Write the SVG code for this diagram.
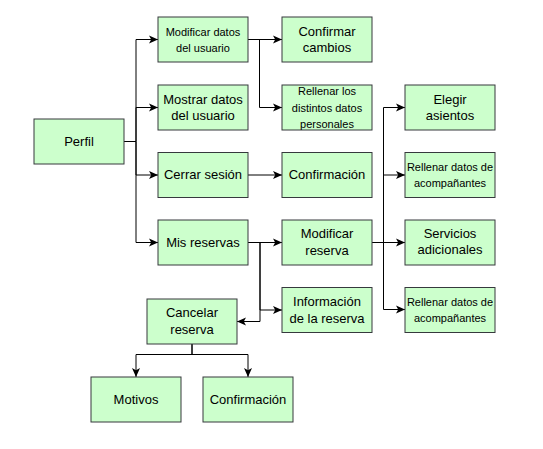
<svg xmlns="http://www.w3.org/2000/svg" width="543" height="449" viewBox="0 0 543 449">
<style>
.b{fill:#ccffcc;stroke:#36393d;stroke-width:1}
.t{font-family:"Liberation Sans",Arial,sans-serif;font-size:13px;fill:#000;text-anchor:middle;dominant-baseline:central}
.s{font-size:11px}
.c{fill:none;stroke:#000;stroke-width:1}
</style>
<defs>
<marker id="a" markerUnits="userSpaceOnUse" markerWidth="9" markerHeight="9" viewBox="0 0 9 9" refX="9" refY="4.5" orient="auto">
<path d="M0,0.5 L9,4.5 L0,8.5 L2.2,4.5 Z" fill="#000"/>
</marker>
</defs>
<rect width="543" height="449" fill="#fff"/>
<g id="connectors">
<path class="c" d="M124 141.5 H136 V39.5 H158" marker-end="url(#a)"/>
<path class="c" d="M124 141.5 H136 V107.5 H158" marker-end="url(#a)"/>
<path class="c" d="M124 141.5 H136 V175 H158" marker-end="url(#a)"/>
<path class="c" d="M124 141.5 H136 V242.5 H158" marker-end="url(#a)"/>
<path class="c" d="M248 39.5 H282" marker-end="url(#a)"/>
<path class="c" d="M248 39.5 H259.5 V107.5 H282" marker-end="url(#a)"/>
<path class="c" d="M248 175 H282" marker-end="url(#a)"/>
<path class="c" d="M248 242.5 H282" marker-end="url(#a)"/>
<path class="c" d="M248 242.5 H260 V310 H282" marker-end="url(#a)"/>
<path class="c" d="M248 242.5 H260 V321.5 H237" marker-end="url(#a)"/>
<path class="c" d="M372 242.5 H383.5 V107.5 H405" marker-end="url(#a)"/>
<path class="c" d="M372 242.5 H383.5 V175 H405" marker-end="url(#a)"/>
<path class="c" d="M372 242.5 H405" marker-end="url(#a)"/>
<path class="c" d="M372 242.5 H383.5 V309.5 H405" marker-end="url(#a)"/>
<path class="c" d="M192 344 V354.5 H136 V377" marker-end="url(#a)"/>
<path class="c" d="M192 344 V354.5 H248 V377" marker-end="url(#a)"/>
</g>
<g id="perfil"><rect class="b" x="34" y="119" width="90" height="45"/><text class="t" x="79" y="141.5">Perfil</text></g>
<g id="modificar-datos"><rect class="b" x="158" y="17" width="90" height="45"/><text class="t s" x="203" y="31.5">Modificar datos</text><text class="t s" x="203" y="47.5">del usuario</text></g>
<g id="mostrar-datos"><rect class="b" x="158" y="85" width="90" height="45"/><text class="t" x="203" y="99">Mostrar datos</text><text class="t" x="203" y="115.5">del usuario</text></g>
<g id="cerrar-sesion"><rect class="b" x="158" y="152.5" width="90" height="45"/><text class="t" x="203" y="174">Cerrar sesión</text></g>
<g id="mis-reservas"><rect class="b" x="158" y="220" width="90" height="45"/><text class="t" x="203" y="242">Mis reservas</text></g>
<g id="confirmar-cambios"><rect class="b" x="282" y="17" width="90" height="45"/><text class="t" x="327" y="31">Confirmar</text><text class="t" x="327" y="47.5">cambios</text></g>
<g id="rellenar-distintos"><rect class="b" x="282" y="85" width="90" height="45"/><text class="t s" x="327" y="91">Rellenar los</text><text class="t s" x="327" y="107.5">distintos datos</text><text class="t s" x="327" y="124">personales</text></g>
<g id="confirmacion-1"><rect class="b" x="282" y="152.5" width="90" height="45"/><text class="t" x="327" y="174">Confirmación</text></g>
<g id="modificar-reserva"><rect class="b" x="282" y="220" width="90" height="45"/><text class="t" x="327" y="233.5">Modificar</text><text class="t" x="327" y="250">reserva</text></g>
<g id="informacion-reserva"><rect class="b" x="282" y="287.5" width="90" height="45"/><text class="t" x="327" y="301.5">Información</text><text class="t" x="327" y="318">de la reserva</text></g>
<g id="elegir-asientos"><rect class="b" x="405" y="85" width="90" height="45"/><text class="t" x="450" y="99">Elegir</text><text class="t" x="450" y="115.5">asientos</text></g>
<g id="rellenar-acomp-1"><rect class="b" x="405" y="152.5" width="90" height="45"/><text class="t s" x="450" y="167">Rellenar datos de</text><text class="t s" x="450" y="183">acompañantes</text></g>
<g id="servicios-adicionales"><rect class="b" x="405" y="220" width="90" height="45"/><text class="t" x="450" y="233">Servicios</text><text class="t" x="450" y="249.5">adicionales</text></g>
<g id="rellenar-acomp-2"><rect class="b" x="405" y="287.5" width="90" height="45"/><text class="t s" x="450" y="302">Rellenar datos de</text><text class="t s" x="450" y="318">acompañantes</text></g>
<g id="cancelar-reserva"><rect class="b" x="147" y="299" width="90" height="45"/><text class="t" x="192" y="312.5">Cancelar</text><text class="t" x="192" y="329">reserva</text></g>
<g id="motivos"><rect class="b" x="91" y="377" width="90" height="45"/><text class="t" x="136" y="399">Motivos</text></g>
<g id="confirmacion-2"><rect class="b" x="203" y="377" width="90" height="45"/><text class="t" x="248" y="399">Confirmación</text></g>
</svg>
